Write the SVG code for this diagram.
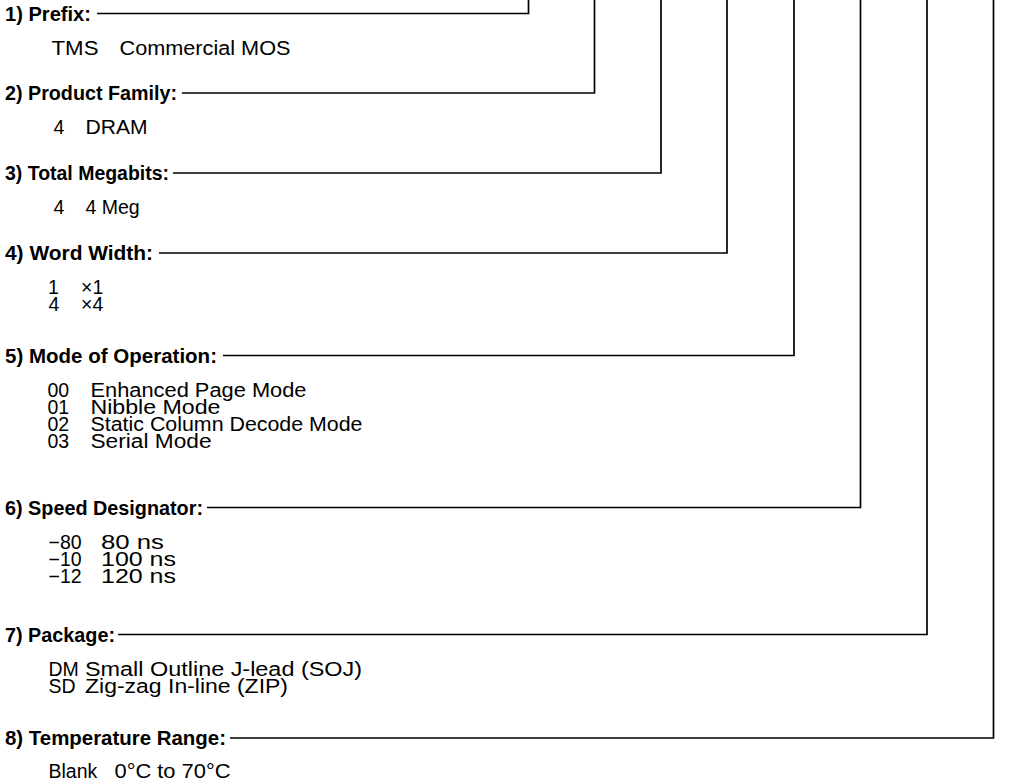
<svg xmlns="http://www.w3.org/2000/svg" width="1010" height="784" viewBox="0 0 1010 784">
<style>
  .h { font-family: "Liberation Sans", Arial, sans-serif; font-weight: bold; font-size: 20px; fill: #000; }
  .t { font-family: "Liberation Sans", Arial, sans-serif; font-size: 19.5px; fill: #000; }
  .c { fill: none; stroke: #000; stroke-width: 1.7; stroke-linejoin: miter; }
</style>
<rect x="0" y="0" width="1010" height="784" fill="#fff"/>
<g id="connectors">
  <path class="c" d="M97 13.5 H528.5 V0"/>
  <path class="c" d="M182 93 H594.5 V0"/>
  <path class="c" d="M173 173 H661 V0"/>
  <path class="c" d="M159 253 H727 V0"/>
  <path class="c" d="M223 355.5 H794 V0"/>
  <path class="c" d="M207 507.5 H860.5 V0"/>
  <path class="c" d="M118 634.5 H927 V0"/>
  <path class="c" d="M230 738 H993.5 V0"/>
</g>
<g id="prefix">
  <text class="h" x="5" y="20.5" textLength="86" lengthAdjust="spacingAndGlyphs">1) Prefix:</text>
  <text class="t"><tspan x="51.5" y="54.5" textLength="47" lengthAdjust="spacingAndGlyphs">TMS</tspan><tspan x="119.5" y="54.5" textLength="171" lengthAdjust="spacingAndGlyphs">Commercial MOS</tspan></text>
</g>
<g id="product-family">
  <text class="h" x="5" y="100" textLength="172" lengthAdjust="spacingAndGlyphs">2) Product Family:</text>
  <text class="t"><tspan x="53.5" y="134">4</tspan><tspan x="85.5" y="134" textLength="62" lengthAdjust="spacingAndGlyphs">DRAM</tspan></text>
</g>
<g id="total-megabits">
  <text class="h" x="5" y="180" textLength="164" lengthAdjust="spacingAndGlyphs">3) Total Megabits:</text>
  <text class="t"><tspan x="53.5" y="214">4</tspan><tspan x="85.5" y="214">4 Meg</tspan></text>
</g>
<g id="word-width">
  <text class="h" x="5" y="260" textLength="148" lengthAdjust="spacingAndGlyphs">4) Word Width:</text>
  <text class="t"><tspan x="48" y="294">1</tspan><tspan x="81" y="294">×1</tspan><tspan x="48.5" y="311">4</tspan><tspan x="81" y="311">×4</tspan></text>
</g>
<g id="mode-of-operation">
  <text class="h" x="5" y="362.5" textLength="212" lengthAdjust="spacingAndGlyphs">5) Mode of Operation:</text>
  <text class="t"><tspan x="47.5" y="396.5">00</tspan><tspan x="90.5" y="396.5" textLength="216" lengthAdjust="spacingAndGlyphs">Enhanced Page Mode</tspan><tspan x="47.5" y="413.5">01</tspan><tspan x="90.5" y="413.5" textLength="130" lengthAdjust="spacingAndGlyphs">Nibble Mode</tspan><tspan x="47.5" y="430.5">02</tspan><tspan x="90.5" y="430.5" textLength="272" lengthAdjust="spacingAndGlyphs">Static Column Decode Mode</tspan><tspan x="47.5" y="447.5">03</tspan><tspan x="90.5" y="447.5" textLength="121" lengthAdjust="spacingAndGlyphs">Serial Mode</tspan></text>
</g>
<g id="speed-designator">
  <text class="h" x="5" y="514.5" textLength="198" lengthAdjust="spacingAndGlyphs">6) Speed Designator:</text>
  <text class="t"><tspan x="48.5" y="548.5">−80</tspan><tspan x="101" y="548.5" textLength="63" lengthAdjust="spacingAndGlyphs">80 ns</tspan><tspan x="48.5" y="565.5">−10</tspan><tspan x="101" y="565.5" textLength="75" lengthAdjust="spacingAndGlyphs">100 ns</tspan><tspan x="48.5" y="582.5">−12</tspan><tspan x="101" y="582.5" textLength="75" lengthAdjust="spacingAndGlyphs">120 ns</tspan></text>
</g>
<g id="package">
  <text class="h" x="5" y="641.5" textLength="110" lengthAdjust="spacingAndGlyphs">7) Package:</text>
  <text class="t"><tspan x="48.5" y="675.5">DM</tspan><tspan x="85" y="675.5" textLength="277" lengthAdjust="spacingAndGlyphs">Small Outline J-lead (SOJ)</tspan><tspan x="48.5" y="692.5">SD</tspan><tspan x="85" y="692.5" textLength="203" lengthAdjust="spacingAndGlyphs">Zig-zag In-line (ZIP)</tspan></text>
</g>
<g id="temperature-range">
  <text class="h" x="5" y="745" textLength="221" lengthAdjust="spacingAndGlyphs">8) Temperature Range:</text>
  <text class="t"><tspan x="48.5" y="778">Blank</tspan><tspan x="114.5" y="778" textLength="116" lengthAdjust="spacingAndGlyphs">0°C to 70°C</tspan></text>
</g>
</svg>
